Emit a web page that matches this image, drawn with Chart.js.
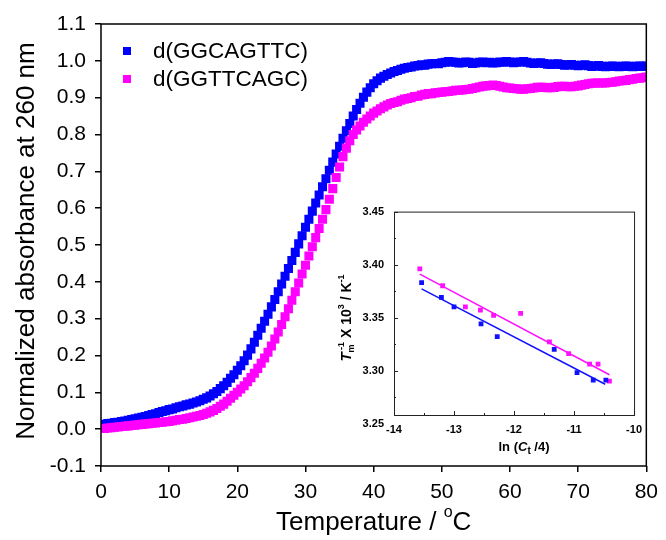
<!DOCTYPE html>
<html>
<head>
<meta charset="utf-8">
<script src="https://cdn.jsdelivr.net/npm/chart.js@4.4.0/dist/chart.umd.min.js"></script>
<style>
  body { margin: 0; background: #fff; }
  #wrap { position: relative; width: 666px; height: 540px; }
  #main { position: absolute; left: 0; top: 0; }
  #inset { position: absolute; left: 330px; top: 195px; }
</style>
</head>
<body>
<div id="wrap">
  <canvas id="main" width="666" height="540"></canvas>
  <canvas id="inset" width="320" height="270"></canvas>
</div>
<script>
const FONT = "'Liberation Sans', Arial, Helvetica, sans-serif";

// ---- main plot data: normalized absorbance vs temperature ----
const temperature = [
  0, 0.5, 1, 1.5, 2, 2.5, 3, 3.5, 4, 4.5,
  5, 5.5, 6, 6.5, 7, 7.5, 8, 8.5, 9, 9.5,
  10, 10.5, 11, 11.5, 12, 12.5, 13, 13.5, 14, 14.5,
  15, 15.5, 16, 16.5, 17, 17.5, 18, 18.5, 19, 19.5,
  20, 20.5, 21, 21.5, 22, 22.5, 23, 23.5, 24, 24.5,
  25, 25.5, 26, 26.5, 27, 27.5, 28, 28.5, 29, 29.5,
  30, 30.5, 31, 31.5, 32, 32.5, 33, 33.5, 34, 34.5,
  35, 35.5, 36, 36.5, 37, 37.5, 38, 38.5, 39, 39.5,
  40, 40.5, 41, 41.5, 42, 42.5, 43, 43.5, 44, 44.5,
  45, 45.5, 46, 46.5, 47, 47.5, 48, 48.5, 49, 49.5,
  50, 50.5, 51, 51.5, 52, 52.5, 53, 53.5, 54, 54.5,
  55, 55.5, 56, 56.5, 57, 57.5, 58, 58.5, 59, 59.5,
  60, 60.5, 61, 61.5, 62, 62.5, 63, 63.5, 64, 64.5,
  65, 65.5, 66, 66.5, 67, 67.5, 68, 68.5, 69, 69.5,
  70, 70.5, 71, 71.5, 72, 72.5, 73, 73.5, 74, 74.5,
  75, 75.5, 76, 76.5, 77, 77.5, 78, 78.5, 79, 79.5,
  80
];
const absGGCAGTTC = [
  0.012, 0.013, 0.015, 0.016, 0.018, 0.019, 0.021, 0.022, 0.024, 0.026,
  0.028, 0.030, 0.032, 0.034, 0.037, 0.040, 0.042, 0.045, 0.048, 0.050,
  0.053, 0.055, 0.058, 0.061, 0.063, 0.066, 0.068, 0.071, 0.074, 0.077,
  0.081, 0.085, 0.090, 0.096, 0.102, 0.110, 0.118, 0.127, 0.138, 0.148,
  0.160, 0.172, 0.186, 0.201, 0.218, 0.236, 0.255, 0.274, 0.293, 0.312,
  0.332, 0.352, 0.373, 0.394, 0.415, 0.436, 0.458, 0.480, 0.503, 0.525,
  0.548, 0.570, 0.592, 0.614, 0.636, 0.658, 0.680, 0.703, 0.725, 0.747,
  0.768, 0.790, 0.810, 0.830, 0.850, 0.868, 0.885, 0.901, 0.915, 0.927,
  0.938, 0.946, 0.953, 0.958, 0.963, 0.967, 0.971, 0.974, 0.977, 0.980,
  0.982, 0.983, 0.986, 0.987, 0.989, 0.988, 0.991, 0.992, 0.993, 0.992,
  0.995, 0.996, 0.998, 0.997, 0.996, 0.994, 0.995, 0.997, 0.996, 0.993,
  0.994, 0.996, 0.997, 0.995, 0.996, 0.994, 0.995, 0.997, 0.996, 0.998,
  0.997, 0.995, 0.996, 0.997, 0.998, 0.996, 0.994, 0.993, 0.994, 0.995,
  0.993, 0.991, 0.990, 0.991, 0.992, 0.990, 0.988, 0.989, 0.990, 0.988,
  0.987, 0.988, 0.989, 0.987, 0.985, 0.986, 0.987, 0.985, 0.984, 0.985,
  0.986, 0.985, 0.984, 0.985, 0.986, 0.985, 0.984, 0.985, 0.986, 0.985,
  0.986
];
const absGGTTCAGC = [
  0.002, 0.002, 0.003, 0.004, 0.005, 0.006, 0.007, 0.008, 0.009, 0.010,
  0.011, 0.012, 0.013, 0.014, 0.015, 0.016, 0.017, 0.018, 0.019, 0.020,
  0.021, 0.023, 0.024, 0.026, 0.027, 0.029, 0.031, 0.033, 0.035, 0.037,
  0.040, 0.043, 0.047, 0.051, 0.056, 0.062, 0.068, 0.076, 0.084, 0.092,
  0.100, 0.109, 0.118, 0.129, 0.140, 0.152, 0.165, 0.179, 0.193, 0.209,
  0.226, 0.245, 0.264, 0.284, 0.305, 0.327, 0.350, 0.373, 0.397, 0.421,
  0.445, 0.470, 0.495, 0.520, 0.545, 0.570, 0.596, 0.624, 0.653, 0.683,
  0.712, 0.740, 0.763, 0.783, 0.800, 0.812, 0.823, 0.833, 0.842, 0.850,
  0.858, 0.864, 0.870, 0.875, 0.880, 0.884, 0.887, 0.889, 0.893, 0.896,
  0.898, 0.900, 0.903, 0.904, 0.907, 0.909, 0.911, 0.911, 0.913, 0.914,
  0.915, 0.916, 0.917, 0.918, 0.920, 0.920, 0.921, 0.922, 0.923, 0.925,
  0.927, 0.929, 0.931, 0.932, 0.933, 0.934, 0.933, 0.931, 0.929, 0.927,
  0.926, 0.925, 0.924, 0.923, 0.923, 0.924, 0.925, 0.926, 0.928, 0.928,
  0.928, 0.927, 0.927, 0.928, 0.930, 0.931, 0.931, 0.930, 0.930, 0.931,
  0.932, 0.934, 0.936, 0.938, 0.939, 0.940, 0.940, 0.940, 0.940, 0.941,
  0.942, 0.943, 0.945, 0.946, 0.947, 0.949, 0.950, 0.952, 0.953, 0.954,
  0.956
];
const seriesNames = ['d(GGCAGTTC)', 'd(GGTTCAGC)'];
const seriesColors = ['#0000ff', '#ff00ff'];
const mainXTicks = [0, 10, 20, 30, 40, 50, 60, 70, 80];
const mainYTicks = [-0.1, 0.0, 0.1, 0.2, 0.3, 0.4, 0.5, 0.6, 0.7, 0.8, 0.9, 1.0, 1.1];

// ---- inset data: 1/Tm vs ln(Ct/4) ----
const lnCtBlue = [-13.54, -13.21, -13.00, -12.55, -12.28, -11.33, -10.95, -10.68, -10.47];
const invTmBlue = [3.383, 3.369, 3.360, 3.344, 3.332, 3.320, 3.298, 3.291, 3.291];
const lnCtMagenta = [-13.57, -13.19, -12.81, -12.56, -12.34, -11.89, -11.41, -11.09, -10.74, -10.60, -10.41];
const invTmMagenta = [3.396, 3.380, 3.360, 3.357, 3.352, 3.354, 3.327, 3.316, 3.306, 3.306, 3.290];
const fitBlueX = [-13.54, -10.48];
const fitBlueY = [3.377, 3.287];
const fitMagentaX = [-13.57, -10.41];
const fitMagentaY = [3.391, 3.296];
const insetXTicks = [-14, -13, -12, -11, -10];
const insetXMinor = [-13.5, -12.5, -11.5, -10.5];
const insetYTicks = [3.25, 3.30, 3.35, 3.40, 3.45];
const insetYMinor = [3.275, 3.325, 3.375, 3.425];

function pairs(xs, ys) {
  return xs.map((x, i) => ({ x: x, y: ys[i] }));
}

// draws a run of text pieces (for sub/superscripts) centred on cx
function drawPieces(ctx, pieces, cx, cy) {
  let total = 0;
  pieces.forEach(p => {
    ctx.font = p.font;
    p.w = ctx.measureText(p.text).width;
    if (p.advance !== false) total += p.w;
  });
  let x = cx - total / 2;
  ctx.textBaseline = 'middle';
  ctx.textAlign = 'left';
  pieces.forEach(p => {
    ctx.font = p.font;
    ctx.fillText(p.text, x, cy + (p.dy || 0));
    if (p.advance !== false) x += p.w;
  });
}

// frame, legend and axis titles of the main plot
const mainDecor = {
  id: 'mainDecor',
  afterDraw(chart) {
    const ctx = chart.ctx;
    const a = chart.chartArea;
    ctx.save();
    ctx.strokeStyle = '#000';
    ctx.lineWidth = 1.5;
    ctx.strokeRect(a.left, a.top, a.right - a.left, a.bottom - a.top);

    // legend
    const legY = [51, 79];
    seriesNames.forEach((name, i) => {
      ctx.fillStyle = seriesColors[i];
      ctx.fillRect(123, legY[i] - 4, 8, 8);
      ctx.fillStyle = '#000';
      ctx.font = '22.5px ' + FONT;
      ctx.textBaseline = 'middle';
      ctx.textAlign = 'left';
      ctx.fillText(name, 153, legY[i] + 1);
    });

    // x title
    ctx.fillStyle = '#000';
    drawPieces(ctx, [
      { text: 'Temperature / ', font: '26px ' + FONT },
      { text: 'o', font: '16px ' + FONT, dy: -10 },
      { text: 'C', font: '26px ' + FONT }
    ], (a.left + a.right) / 2, 523);

    // y title
    ctx.translate(27, (a.top + a.bottom) / 2 - 4);
    ctx.rotate(-Math.PI / 2);
    ctx.font = '26px ' + FONT;
    ctx.textAlign = 'center';
    ctx.textBaseline = 'middle';
    ctx.fillText('Normalized absorbance at 260 nm', 0, 0);
    ctx.restore();
  }
};

new Chart(document.getElementById('main'), {
  type: 'scatter',
  data: {
    datasets: [
      {
        label: seriesNames[0],
        data: pairs(temperature, absGGCAGTTC),
        pointStyle: 'rect',
        pointRadius: 6.4,
        pointBorderWidth: 0,
        backgroundColor: seriesColors[0],
        borderColor: seriesColors[0],
        order: 1
      },
      {
        label: seriesNames[1],
        data: pairs(temperature, absGGTTCAGC),
        pointStyle: 'rect',
        pointRadius: 6.4,
        pointBorderWidth: 0,
        backgroundColor: seriesColors[1],
        borderColor: seriesColors[1],
        order: 0
      }
    ]
  },
  options: {
    responsive: false,
    animation: false,
    events: [],
    layout: { padding: { top: 24, right: 15, left: 0, bottom: 0 } },
    plugins: { legend: { display: false }, tooltip: { enabled: false } },
    scales: {
      x: {
        type: 'linear',
        min: 0,
        max: 80,
        afterBuildTicks: s => { s.ticks = mainXTicks.map(v => ({ value: v })); },
        ticks: { color: '#000', font: { family: FONT, size: 21 }, padding: 8, maxRotation: 0, autoSkip: false },
        grid: { drawOnChartArea: false, color: '#000', lineWidth: 1.5, tickLength: 6 },
        border: { display: false },
        afterFit: s => { s.height = 74; }
      },
      y: {
        min: -0.1,
        max: 1.1,
        afterBuildTicks: s => { s.ticks = mainYTicks.map(v => ({ value: v })); },
        ticks: {
          color: '#000',
          font: { family: FONT, size: 21 },
          padding: 9,
          autoSkip: false,
          callback: v => (Math.abs(v) < 1e-9 ? 0 : v).toFixed(1)
        },
        grid: { drawOnChartArea: false, color: '#000', lineWidth: 1.5, tickLength: 6 },
        border: { display: false },
        afterFit: s => { s.width = 101; }
      }
    }
  },
  plugins: [mainDecor]
});

// frame, inward ticks and titles of the inset
const insetDecor = {
  id: 'insetDecor',
  afterDraw(chart) {
    const ctx = chart.ctx;
    const a = chart.chartArea;
    const xs = chart.scales.x;
    const ys = chart.scales.y;
    ctx.save();
    ctx.strokeStyle = '#222';
    ctx.lineWidth = 1;
    ctx.strokeRect(a.left + 0.5, a.top + 0.5, a.right - a.left, a.bottom - a.top);
    ctx.beginPath();
    insetXTicks.forEach(v => {
      const px = Math.round(xs.getPixelForValue(v)) + 0.5;
      ctx.moveTo(px, a.bottom); ctx.lineTo(px, a.bottom - 4);
    });
    insetXMinor.forEach(v => {
      const px = Math.round(xs.getPixelForValue(v)) + 0.5;
      ctx.moveTo(px, a.bottom); ctx.lineTo(px, a.bottom - 2);
    });
    insetYTicks.forEach(v => {
      const py = Math.round(ys.getPixelForValue(v)) + 0.5;
      if (py > a.bottom) return;
      ctx.moveTo(a.left, py); ctx.lineTo(a.left + 4, py);
    });
    insetYMinor.forEach(v => {
      const py = Math.round(ys.getPixelForValue(v)) + 0.5;
      ctx.moveTo(a.left, py); ctx.lineTo(a.left + 2, py);
    });
    ctx.stroke();

    ctx.fillStyle = '#000';
    drawPieces(ctx, [
      { text: 'ln (', font: 'bold 13px ' + FONT },
      { text: 'C', font: 'italic bold 13px ' + FONT },
      { text: 't', font: 'bold 10px ' + FONT, dy: 4 },
      { text: ' /4)', font: 'bold 13px ' + FONT }
    ], 194, 252);

    ctx.translate(17, 123);
    ctx.rotate(-Math.PI / 2);
    drawPieces(ctx, [
      { text: 'T', font: 'italic bold 15px ' + FONT },
      { text: 'm', font: 'bold 9px ' + FONT, dy: 5, advance: false },
      { text: ' -1', font: 'bold 9px ' + FONT, dy: -5 },
      { text: ' X 10', font: 'bold 14px ' + FONT },
      { text: '3', font: 'bold 9px ' + FONT, dy: -5 },
      { text: ' / K', font: 'bold 14px ' + FONT },
      { text: '-1', font: 'bold 9px ' + FONT, dy: -5 }
    ], 0, 0);
    ctx.restore();
  }
};

new Chart(document.getElementById('inset'), {
  type: 'scatter',
  data: {
    datasets: [
      {
        data: pairs(fitBlueX, fitBlueY),
        showLine: true, pointRadius: 0, borderColor: '#1010ff', borderWidth: 1.5, fill: false
      },
      {
        data: pairs(fitMagentaX, fitMagentaY),
        showLine: true, pointRadius: 0, borderColor: '#ff10ff', borderWidth: 1.5, fill: false
      },
      {
        data: pairs(lnCtBlue, invTmBlue),
        pointStyle: 'rect', pointRadius: 3.4, pointBorderWidth: 0,
        backgroundColor: '#1010ff', borderColor: '#1010ff'
      },
      {
        data: pairs(lnCtMagenta, invTmMagenta),
        pointStyle: 'rect', pointRadius: 3.4, pointBorderWidth: 0,
        backgroundColor: '#ff10ff', borderColor: '#ff10ff'
      }
    ]
  },
  options: {
    responsive: false,
    animation: false,
    events: [],
    layout: { padding: { top: 11, right: 13, left: 0, bottom: 0 } },
    plugins: { legend: { display: false }, tooltip: { enabled: false } },
    scales: {
      x: {
        type: 'linear',
        min: -14,
        max: -10,
        afterBuildTicks: s => { s.ticks = insetXTicks.map(v => ({ value: v })); },
        ticks: { color: '#000', font: { family: FONT, size: 11, weight: 'bold' }, padding: 8, maxRotation: 0, autoSkip: false },
        grid: { display: false, drawTicks: false },
        border: { display: false },
        afterFit: s => { s.height = 50; }
      },
      y: {
        min: 3.258,
        max: 3.45,
        afterBuildTicks: s => { s.ticks = insetYTicks.map(v => ({ value: v })); },
        ticks: {
          color: '#000', font: { family: FONT, size: 11, weight: 'bold' }, padding: 10, autoSkip: false,
          callback: v => v.toFixed(2)
        },
        grid: { display: false, drawTicks: false },
        border: { display: false },
        afterFit: s => { s.width = 64; }
      }
    }
  },
  plugins: [insetDecor]
});
</script>
</body>
</html>
